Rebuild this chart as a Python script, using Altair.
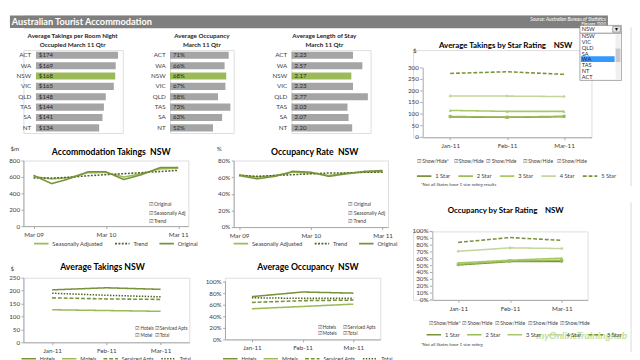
import altair as alt
import pandas as pd

FONT = "Lato"
AXC = "#a6a6a6"
TXT = "#404040"
DARK = "#77933c"
MID = "#9bbb59"
LIGHT = "#c3d69b"
DEEP = "#4f6228"

# ---------------- data ----------------
states = ["ACT", "WA", "NSW", "VIC", "QLD", "TAS", "SA", "NT"]
room_takings = [174, 169, 168, 165, 148, 144, 141, 134]
state_occupancy = [71, 66, 68, 67, 58, 73, 63, 52]
length_of_stay = [2.23, 2.57, 2.17, 2.23, 2.77, 2.03, 2.07, 2.20]

quarters = ["Mar 09", "Jun 09", "Sep 09", "Dec 09", "Mar 10", "Jun 10", "Sep 10", "Dec 10", "Mar 11"]
quarter_ticks = ["Mar 09", "Mar 10", "Mar 11"]
trend_series = ["Seasonally Adjusted", "Trend", "Original"]
takings_seasonal = [605, 575, 592, 650, 655, 598, 642, 698, 706]
takings_trend = [588, 586, 596, 614, 628, 640, 652, 666, 680]
takings_original = [620, 518, 580, 662, 662, 568, 630, 714, 714]
occrate_seasonal = [63, 60, 62, 66, 65, 62, 65, 66, 67]
occrate_trend = [62, 61, 62, 63, 64, 65, 65, 66, 66]
occrate_original = [62, 58, 61, 67, 66, 61, 64, 67, 68]

months = ["Jan-11", "Feb-11", "Mar-11"]
star_series = ["1 Star", "2 Star", "3 Star", "4 Star", "5 Star"]
star_takings_1 = [88, 86, 89]
star_takings_2 = [90, 87, 91]
star_takings_3 = [116, 112, 112]
star_takings_4 = [178, 178, 176]
star_takings_5 = [276, 283, 272]
star_occ_1 = [51, 56, 56]
star_occ_2 = [52, 57, 58]
star_occ_3 = [54, 58, 61]
star_occ_4 = [71, 76, 75]
star_occ_5 = [84, 91, 87]

type_series = ["Hotels", "Motels", "Serviced Apts", "Total"]
type_takings_hotels = [203, 211, 205]
type_takings_motels = [126, 123, 120]
type_takings_serviced = [172, 168, 166]
type_takings_total = [190, 182, 176]
type_occ_hotels = [74, 82, 80]
type_occ_motels = [53, 57, 61]
type_occ_serviced = [64, 67, 68]
type_occ_total = [72, 71, 71]

dropdown_items = ["NSW", "VIC", "QLD", "SA", "WA", "TAS", "NT", "ACT"]

NB = "\u00a0"
CHK = "\u2611"


# ---------------- helpers ----------------
def long_df(cats, names, arrays):
    rows = []
    for n, arr in zip(names, arrays):
        for c, v in zip(cats, arr):
            rows.append({"cat": c, "series": n, "value": v})
    return pd.DataFrame(rows)


def text_chart(text, x, y, size=6.0, align="left", baseline="top", color=TXT,
               style="normal", weight="normal", lh=None, opacity=1.0, font=FONT):
    return alt.Chart(pd.DataFrame({"t": [text]})).mark_text(
        align=align, baseline=baseline, fontSize=size, color=color, fontStyle=style,
        fontWeight=weight, font=font, lineBreak="\n", lineHeight=lh or size + 2, opacity=opacity,
        clip=False
    ).encode(x=alt.value(x), y=alt.value(y), text="t:N")


def title_text(text, x, y, size=9.0):
    return text_chart(text, x, y, size=size, align="center", baseline="middle",
                      color="#000000", weight="bold")


def rect_chart(x1, x2, y1, y2, fill, stroke=None):
    kw = dict(fill=fill, clip=False)
    if stroke:
        kw.update(stroke=stroke, strokeWidth=0.7)
    return alt.Chart(pd.DataFrame({"a": [0]})).mark_rect(**kw).encode(
        x=alt.value(x1), x2=alt.value(x2), y=alt.value(y1), y2=alt.value(y2))


def vline_chart(x, y1, y2, color):
    return alt.Chart(pd.DataFrame({"a": [0]})).mark_rule(color=color, strokeWidth=1, clip=False).encode(
        x=alt.value(x), y=alt.value(y1), y2=alt.value(y2))


def axis_y(values, ext, expr=None, title=None, tx=0, ty=0, domain=True):
    kw = dict(values=values, grid=False, domain=domain, domainColor=AXC, tickColor=AXC, tickSize=2.5,
              labelFontSize=6.5, labelFont=FONT, labelColor=TXT, labelPadding=1.5,
              labelOverlap=False, minExtent=ext, maxExtent=ext, title=title)
    if expr:
        kw["labelExpr"] = expr
    if title:
        kw.update(titleAngle=0, titleX=tx, titleY=ty, titleAlign="left", titleBaseline="middle",
                  titleFontSize=6.5, titleFont=FONT, titleColor=TXT, titleFontWeight="normal")
    return alt.Axis(**kw)


def axis_x(values=None):
    kw = dict(grid=False, domainColor=AXC, tickColor=AXC, tickSize=2.5, labelFontSize=6.5,
              labelFont=FONT, labelColor=TXT, labelPadding=3, labelAngle=0, labelOverlap=False,
              title=None)
    if values is not None:
        kw["values"] = values
    return alt.Axis(**kw)


def line_legend(lx, ly, cp, size=6):
    return alt.Legend(orient="none", legendX=lx, legendY=ly, direction="horizontal", title=None,
                      symbolType="stroke", symbolSize=225, symbolStrokeWidth=1.6, labelFontSize=size,
                      labelFont=FONT, labelColor=TXT, labelOffset=3, columnPadding=cp, padding=0)


def indep(c):
    return c.resolve_scale(color="independent", strokeDash="independent").resolve_legend(
        color="independent", strokeDash="independent")


def bar_panel(values, labels, dmax, width, title_lines, tx, left=0, ext=None):
    df = pd.DataFrame({"state": states, "value": values, "label": labels})
    yscale = alt.Scale(paddingInner=0.32, paddingOuter=0.16)
    if ext is None:
        yaxis = None
    else:
        yaxis = alt.Axis(title=None, ticks=False, domain=False, labelFontSize=6.5, labelFont=FONT,
                         labelColor=TXT, labelPadding=5, minExtent=ext, maxExtent=ext)
    yenc = alt.Y("state:N", sort=states, scale=yscale, axis=yaxis)
    bars = alt.Chart(df).mark_bar().encode(
        y=yenc,
        x=alt.X("value:Q", scale=alt.Scale(domain=[0, dmax], range=[left, width], nice=False),
                axis=None),
        color=alt.condition(alt.datum.state == "NSW", alt.value(MID), alt.value("#a5a5a5")),
    )
    txt = alt.Chart(df).mark_text(align="left", baseline="middle", dx=3, fontSize=6.3, font=FONT,
                                  color="#262626", clip=False).encode(
        y=yenc, x=alt.value(left), text="label:N")
    layers = [bars, txt]
    if ext is None:
        layers.append(alt.Chart(df).mark_text(align="right", baseline="middle", fontSize=6.5,
                                              font=FONT, color=TXT, clip=False).encode(
            y=yenc, x=alt.value(left - 5), text="state:N"))
    layers.append(text_chart("\n".join(title_lines), tx, -17.5, size=6.5, align="center",
                             color="#262626", weight="bold", lh=9))
    return alt.layer(*layers).properties(width=width, height=86)


def line_panel(cats, names, arrays, colors, dashes, *, width, height, ydom, yvals, ext,
               yexpr=None, xticks=None, xpad=0.5, xrange=None, axis_rule=None,
               manual_y=None, hidden_ext=None,
               ytitle=None, ytx=0, yty=0, legend=None, markers=None, extra=()):
    df = long_df(cats, names, arrays)
    xs = dict(type="point", padding=xpad)
    if xrange:
        xs["range"] = xrange
    xenc = alt.X("cat:N", sort=cats, scale=alt.Scale(**xs), axis=axis_x(xticks))
    yscale = alt.Scale(domain=ydom, nice=False)
    if manual_y is None:
        yax = axis_y(yvals, ext, yexpr, ytitle, ytx, yty, axis_rule is None)
        ax0 = 0
    else:
        ax0, fmt = manual_y
        if hidden_ext:
            yax = alt.Axis(labels=False, ticks=False, domain=False, grid=False, title=None,
                           minExtent=hidden_ext, maxExtent=hidden_ext)
        else:
            yax = None
    yenc = alt.Y("value:Q", scale=yscale, axis=yax)
    lines = alt.Chart(df).mark_line(strokeWidth=1.6).encode(
        x=xenc, y=yenc,
        color=alt.Color("series:N", scale=alt.Scale(domain=names, range=colors), legend=legend),
        strokeDash=alt.StrokeDash("series:N", scale=alt.Scale(domain=names, range=dashes), legend=legend),
    )
    layers = [lines]
    if axis_rule is not None:
        # the axis line only runs over the labelled part of the value scale
        rule_df = pd.DataFrame({"value": [axis_rule[0]], "top": [axis_rule[1]]})
        layers.append(alt.Chart(rule_df).mark_rule(color=AXC, strokeWidth=1, clip=False)
                      .encode(x=alt.value(ax0 + 0.5), y=yenc, y2="top:Q"))
    if manual_y is not None:
        tick_df = pd.DataFrame({"value": yvals, "lab": [fmt(v) for v in yvals]})
        layers.append(alt.Chart(tick_df).mark_rule(color=AXC, strokeWidth=1, clip=False)
                      .encode(x=alt.value(ax0 - 2.5), x2=alt.value(ax0), y=yenc))
        layers.append(alt.Chart(tick_df).mark_text(align="right", baseline="middle", fontSize=6.5,
                                                   font=FONT, color=TXT, clip=False)
                      .encode(x=alt.value(ax0 - 4), y=yenc, text="lab:N"))
    if markers:
        for name, shape, col in markers:
            layers.append(
                alt.Chart(df).transform_filter(alt.datum.series == name)
                .mark_point(shape=shape, filled=True, size=10, color=col, opacity=1)
                .encode(x=xenc, y=yenc))
    layers.extend(extra)
    return alt.layer(*layers).properties(width=width, height=height)


# ---------------- header ----------------
header = alt.layer(
    rect_chart(-14, 606, 0, 13, "#7f7f7f"),
    text_chart("Australian Tourist Accommodation", -12, 6.5, size=9.5, weight="bold",
               color="white", baseline="middle"),
    text_chart("Source: Australian Bureau of Statistics\nFigures '000", 604, 1.5, size=5,
               align="right", color="white", style="italic", lh=5.5),
).properties(width=592, height=13)

# ---------------- row B: state bars ----------------
bar1 = bar_panel(room_takings, [f"${v}" for v in room_takings], 184, 103,
                 ["Average Takings per Room Night", "Occupied March 11 Qtr"], 51, left=13)
bar2 = bar_panel(state_occupancy, [f"{v}%" for v in state_occupancy], 77, 66,
                 ["Average Occupancy", "March 11 Qtr"], 33, ext=47)
bar3 = bar_panel(length_of_stay, [f"{v:.2f}" for v in length_of_stay], 2.87, 82,
                 ["Average Length of Stay", "March 11 Qtr"], 34, ext=58)
rowB = indep(alt.hconcat(bar1, bar2, bar3, spacing=0))

# ---------------- row C: trend charts ----------------
trend_colors = [MID, DEEP, DARK]
trend_dash = [[1, 0], [2, 1.5], [1, 0]]
trend_checks = f"{CHK} Original\n{CHK} Seasonally Adj\n{CHK} Trend"

acc = line_panel(quarters, trend_series, [takings_seasonal, takings_trend, takings_original],
                 trend_colors, trend_dash, width=171, height=68, ydom=[0, 800],
                 yvals=[0, 200, 400, 600, 800], ext=14, xticks=quarter_ticks, xpad=0.56,
                 ytitle="$m", ytx=-14, yty=-12, legend=line_legend(10, 77.5, 8),
                 extra=[title_text(f"Accommodation Takings{NB}{NB}NSW", 91, -9),
                        text_chart(trend_checks, 130, 43, size=5.2, lh=9)])
occ = line_panel(quarters, trend_series, [occrate_seasonal, occrate_trend, occrate_original],
                 trend_colors, trend_dash, width=160, height=69, ydom=[0, 80],
                 yvals=[0, 20, 40, 60, 80], yexpr="datum.value + '%'", ext=35,
                 xticks=quarter_ticks, xpad=0.3,
                 ytitle="%", ytx=-18, yty=-12, legend=line_legend(-1, 77.5, 8),
                 extra=[title_text(f"Occupancy Rate{NB}{NB}NSW", 84, -9),
                        text_chart(trend_checks, 119, 43, size=5.2, lh=9)])
rowC = indep(alt.hconcat(acc, occ, spacing=0))

# ---------------- row D: by accommodation type ----------------
type_colors = [DARK, MID, DARK, DEEP]
type_dash = [[1, 0], [1, 0], [4, 2], [1.5, 1.5]]
avgT = line_panel(months, type_series,
                  [type_takings_hotels, type_takings_motels, type_takings_serviced, type_takings_total],
                  type_colors, type_dash, width=172, height=67, ydom=[0, 250],
                  yvals=[0, 50, 100, 150, 200, 250], ext=14, xpad=0.53,
                  ytitle="$", ytx=-14, yty=-9, legend=line_legend(-3, 75.5, 3, 5.5),
                  extra=[title_text("Average Takings NSW", 82, -11),
                         text_chart(f"{CHK} Hotels\n{CHK} Motel", 116, 50, size=4.8, lh=7),
                         text_chart(f"{CHK} Serviced Apts\n{CHK} Total", 136, 50, size=4.8, lh=7)])
avgO = line_panel(months, type_series,
                  [type_occ_hotels, type_occ_motels, type_occ_serviced, type_occ_total],
                  type_colors, type_dash, width=161, height=64, ydom=[0, 106.7],
                  yvals=[0, 20, 40, 60, 80, 100], yexpr="datum.value + '%'", ext=33, xpad=0.53,
                  axis_rule=(0, 100),
                  legend=line_legend(-3, 75.5, 3, 5.5),
                  extra=[title_text(f"Average Occupancy{NB}{NB}NSW", 86, -11),
                         text_chart(f"{CHK} Hotels\n{CHK} Motels", 96, 49, size=4.8, lh=6.5),
                         text_chart(f"{CHK} Serviced Apts\n{CHK} Total", 122, 49, size=4.8, lh=6.5)])
rowD = indep(alt.hconcat(avgT, avgO, spacing=0))

left_col = indep(alt.vconcat(indep(alt.vconcat(rowB, rowC, spacing=11.5)), rowD, spacing=15))

# ---------------- right column: star ratings ----------------
star_colors = [DARK, MID, "#a9c86a", LIGHT, DARK]
star_dash = [[1, 0], [1, 0], [1, 0], [1, 0], [4, 2]]
star_markers = [("1 Star", "diamond", DARK), ("2 Star", "square", MID),
                ("3 Star", "triangle-up", "#a9c86a"), ("4 Star", "cross", LIGHT)]


def checkbox_row(xs, y):
    out = []
    for i, x in enumerate(xs):
        out.append(text_chart(f"{CHK} Show/Hide*" if i == 0 else f"{CHK} Show/Hide", x, y,
                              size=5.2, baseline="middle"))
    return out


# right column origin sits 10px left of the star1 value axis
D0 = -25.6
DX = 10
dropdown = [
    rect_chart(DX + 163, DX + 206, D0 + 8, D0 + 57, "white", "#7f7f7f"),
    rect_chart(DX + 164, DX + 199, D0 + 32, D0 + 38, "#3399ff"),
    rect_chart(DX + 200, DX + 205, D0 + 9, D0 + 56, "#f0f0f0"),
    rect_chart(DX + 200, DX + 205, D0 + 24, D0 + 38, "#c8c8c8"),
    text_chart("\n".join(dropdown_items), DX + 165, D0 + 8.3, size=5.8, lh=6, color="#1f1f3f"),
    rect_chart(DX + 163, DX + 206, D0, D0 + 8, "white", "#7f7f7f"),
    rect_chart(DX + 197, DX + 205, D0 + 1, D0 + 7, "#e6e6e6", "#7f7f7f"),
    text_chart("NSW", DX + 165, D0 + 4, size=5.8, baseline="middle", color="#1f1f3f"),
    text_chart("\u25be", DX + 201, D0 + 4, size=6, baseline="middle", align="center",
               color="#000000", font="DejaVu Sans"),
    vline_chart(DX + 216, D0 + 2, 141, "#d9d9d9"),
]

# star1: plot area top sits level with the state bars; 300 is 18.4px below it
star1 = line_panel(months, star_series,
                   [star_takings_1, star_takings_2, star_takings_3, star_takings_4, star_takings_5],
                   star_colors, star_dash, width=185, height=90.4,
                   ydom=[0, 376.7], yvals=[0, 50, 100, 150, 200, 250, 300], ext=24, xpad=0.483,
                   xrange=[10, 185], axis_rule=(0, 300), manual_y=(10, lambda v: f"{v}"),
                   hidden_ext=24,
                   legend=line_legend(3, 122, 4), markers=star_markers,
                   extra=[title_text(f"Average Takings by Star Rating{NB}{NB}{NB}{NB}NSW", 96, -4.6,
                                     size=8.2),
                          text_chart("$", 0, 1.4, size=6.5, baseline="middle")]
                   + checkbox_row([4, 42, 76, 114, 149], 115.4)
                   + [text_chart("*Not all States have 1 star rating results", 8, 139.4, size=4.8,
                                 style="italic", baseline="middle")]
                   + dropdown)

# star2: its value axis sits 20px inside the shared column origin
star2 = line_panel(months, star_series,
                   [star_occ_1, star_occ_2, star_occ_3, star_occ_4, star_occ_5],
                   star_colors, star_dash, width=181, height=71, ydom=[0, 100],
                   yvals=list(range(0, 101, 10)), ext=24, xpad=0.5, xrange=[20, 181],
                   axis_rule=(0, 100), manual_y=(20, lambda v: f"{v}%"), hidden_ext=24,
                   legend=line_legend(13, 98.5, 3), markers=star_markers,
                   extra=[title_text(f"Occupancy by Star Rating{NB}{NB}{NB}{NB}NSW", 96, -21,
                                     size=8.2)]
                   + checkbox_row([16, 51, 85, 119, 152], 95)
                   + [text_chart("*Not all States have 1 star rating", 8, 118, size=4.8,
                                 style="italic", baseline="middle"),
                      text_chart("myOnlineTraininghub", 222, 109, size=10.5, align="right",
                                 baseline="middle", weight="bold", style="italic",
                                 color="#8cc63f", opacity=0.55),
                      vline_chart(226, -30, 125, "#d9d9d9")])

right_col = indep(alt.vconcat(star1, star2, spacing=15))

body = indep(alt.hconcat(left_col, right_col, spacing=-10))

chart = indep(alt.vconcat(header, body, spacing=-5)).properties(padding=0, background="white")
chart = chart.configure_view(stroke=None).configure(font=FONT)

chart.save("out.html", embed_options={"renderer": "svg", "actions": False})
